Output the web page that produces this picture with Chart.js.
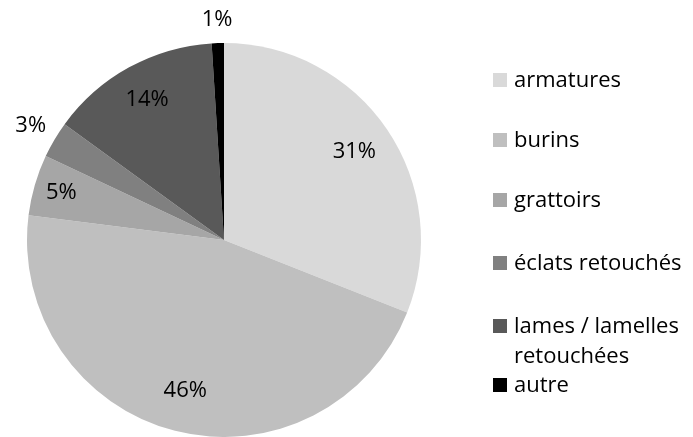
<!DOCTYPE html>
<html>
<head>
<meta charset="utf-8">
<script src="https://cdn.jsdelivr.net/npm/chart.js@4"></script>
<style>
  html, body { margin: 0; padding: 0; background: #fff; }
  #wrap { width: 693px; height: 437px; position: relative; }
</style>
</head>
<body>
<div id="wrap"><canvas id="pie-chart" width="693" height="437"></canvas></div>
<script>
// Categories and shares (%)
const categories = ['armatures', 'burins', 'grattoirs', 'éclats retouchés', 'lames / lamelles retouchées', 'autre'];
const legendLines = [['armatures'], ['burins'], ['grattoirs'], ['éclats retouchés'], ['lames / lamelles', 'retouchées'], ['autre']];
const shares = [31, 46, 5, 3, 14, 1];
const colors = ['#d9d9d9', '#bfbfbf', '#a6a6a6', '#808080', '#595959', '#000000'];

// label distance from centre, as a fraction of the radius (>1 = outside)
const labelRadius = [0.8, 0.79, 0.86, 1.14, 0.81, 1.12];

const FONT = '22px "Open Sans", sans-serif';

const sliceLabels = {
    id: 'sliceLabels',
    afterDatasetsDraw(chart) {
        const ctx = chart.ctx;
        const meta = chart.getDatasetMeta(0);
        ctx.save();
        ctx.font = FONT;
        ctx.fillStyle = '#000';
        ctx.textAlign = 'center';
        ctx.textBaseline = 'middle';
        meta.data.forEach((arc, i) => {
            const mid = (arc.startAngle + arc.endAngle) / 2;
            const r = arc.outerRadius * labelRadius[i];
            ctx.fillText(shares[i] + '%', arc.x + Math.cos(mid) * r, arc.y + Math.sin(mid) * r);
        });
        ctx.restore();
    }
};

// Legend at the right, one block per category
const sideLegend = {
    id: 'sideLegend',
    afterDraw(chart) {
        const ctx = chart.ctx;
        const baselines = [87, 147, 207, 270, 333, 392];
        ctx.save();
        ctx.font = FONT;
        ctx.textBaseline = 'alphabetic';
        legendLines.forEach((lines, i) => {
            ctx.fillStyle = colors[i];
            ctx.fillRect(493, baselines[i] - 14, 14, 14);
            ctx.fillStyle = '#000';
            lines.forEach((t, j) => ctx.fillText(t, 514, baselines[i] + j * 30));
        });
        ctx.restore();
    }
};

const ctx = document.getElementById('pie-chart').getContext('2d');
new Chart(ctx, {
    type: 'pie',
    data: {
        labels: categories,
        datasets: [{
            data: shares,
            backgroundColor: colors,
            borderWidth: 0
        }]
    },
    options: {
        responsive: false,
        animation: false,
        layout: { padding: { left: 27, top: 43, right: 272, bottom: 0 } },
        plugins: {
            legend: { display: false },
            tooltip: { enabled: false }
        }
    },
    plugins: [sliceLabels, sideLegend]
});
</script>
</body>
</html>
